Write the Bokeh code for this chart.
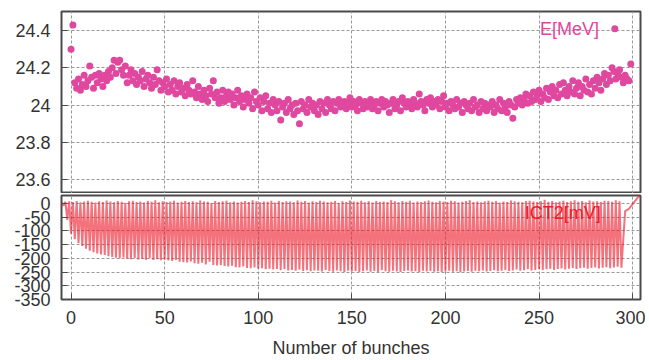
import numpy as np
from bokeh.plotting import figure
from bokeh.layouts import column
from bokeh.models import Range1d, FixedTicker, Label
from bokeh.embed import file_html
from bokeh.resources import INLINE

# ---------------- data ----------------
# E[MeV] for bunch 0..299
energy_mev = [
    24.30, 24.43, 24.12, 24.09, 24.14, 24.08, 24.11, 24.16, 24.10, 24.13,
    24.21, 24.15, 24.09, 24.16, 24.12, 24.17, 24.14, 24.10, 24.16, 24.13,
    24.18, 24.15, 24.20, 24.24, 24.17, 24.23, 24.24, 24.19, 24.16, 24.21,
    24.12, 24.16, 24.19, 24.13, 24.17, 24.11, 24.15, 24.13, 24.18, 24.10,
    24.14, 24.16, 24.12, 24.09, 24.15, 24.11, 24.19, 24.13, 24.08, 24.12,
    24.10, 24.14, 24.07, 24.11, 24.08, 24.13, 24.06, 24.10, 24.12, 24.07,
    24.09, 24.05, 24.11, 24.08, 24.06, 24.13, 24.07, 24.04, 24.10, 24.06,
    24.03, 24.08, 24.05, 24.02, 24.09, 24.06, 24.13, 24.04, 24.07, 24.01,
    24.04, 24.08, 24.02, 24.05, 24.07, 24.03, 24.06, 24.00, 24.04, 24.08,
    24.02, 24.05, 23.99, 24.03, 24.06, 24.01, 24.04, 23.98, 24.07, 24.02,
    24.00, 24.04, 23.97, 24.02, 24.05, 23.98, 24.01, 23.96, 24.03, 24.00,
    23.97, 24.02, 23.92, 23.99, 24.01, 23.96, 24.03, 23.98, 24.00, 23.95,
    24.01, 23.97, 23.90, 24.02, 23.98, 24.00, 23.96, 24.03, 23.99, 24.01,
    23.97, 24.00, 23.95, 24.02, 23.98, 24.01, 23.96, 24.03, 24.00, 23.98,
    24.02, 23.97, 24.01, 24.03, 23.99, 24.00, 24.02, 23.98, 24.01, 24.04,
    23.99, 24.02, 24.00, 23.97, 24.03, 24.01, 23.98, 24.02, 23.99, 24.01,
    24.03, 23.98, 24.00, 24.02, 23.97, 24.01, 24.03, 23.99, 24.02, 24.00,
    23.96, 24.01, 24.03, 23.98, 24.00, 24.02, 23.97, 24.04, 24.01, 23.99,
    24.02, 24.00, 23.98, 24.03, 24.01, 23.99, 24.06, 24.02, 24.00, 23.97,
    24.03, 24.01, 24.04, 23.99, 24.02, 24.00, 24.03, 23.98, 24.02, 24.05,
    23.99, 24.01, 23.97, 24.02, 24.00, 23.98, 24.03, 23.99, 24.01, 23.96,
    24.02, 24.00, 23.98, 24.01, 23.97, 24.03, 23.99, 24.00, 23.96, 24.02,
    23.98, 24.01, 23.97, 24.00, 23.99, 24.02, 23.96, 24.00, 23.98, 24.03,
    23.97, 24.01, 23.99, 23.96, 24.02, 24.00, 23.93, 23.99, 24.03, 24.01,
    24.04, 24.00, 24.03, 24.06, 24.01, 24.05, 24.02, 24.07, 24.03, 24.05,
    24.08, 24.02, 24.06, 24.04, 24.09, 24.03, 24.07, 24.10, 24.05, 24.08,
    24.04, 24.11, 24.06, 24.12, 24.08, 24.05, 24.10, 24.07, 24.13, 24.06,
    24.09, 24.12, 24.05, 24.10, 24.08, 24.14, 24.07, 24.11, 24.06, 24.13,
    24.09, 24.15, 24.12, 24.08, 24.14, 24.17, 24.11, 24.16, 24.13, 24.20,
    24.18, 24.14, 24.17, 24.19, 24.15, 24.12, 24.16, 24.14, 24.13, 24.22,
]

# ICT2[mV] trace: pulse tops (x = -5, -3, ...) and troughs (x = -4, -2, ...)
ict2_peaks = [
    3, 6, 8, 5, 9, 4, 7, 10, 6, 3,
    8, 5, 11, 7, 4, 9, 6, 2, 8, 10,
    5, 7, 3, 9, 6, 12, 4, 8, 5, 7,
    10, 3, 6, 9, 5, 8, 4, 11, 7, 6,
    2, 9, 5, 8, 10, 4, 7, 3, 6, 9,
    5, 12, 8, 4, 7, 6, 10, 3, 9, 5,
    8, 7, 4, 11, 6, 9, 3, 8, 5, 10,
    7, 4, 6, 9, 2, 8, 5, 11, 7, 6,
    10, 4, 8, 3, 9, 6, 7, 5, 12, 8,
    4, 9, 6, 10, 3, 7, 5, 8, 11, 6,
    4, 9, 7, 5, 10, 8, 3, 6, 9, 12,
    5, 7, 4, 8, 10, 6, 9, 3, 7, 5,
    11, 8, 6, 4, 9, 10, 7, 5, 8, 13,
    6, 9, 4, 7, 10, 5, 8, 12, 6, 9,
    4, 11, 7, 8, 5, 10, 9, 6, 12, 8,
]
ict2_troughs = [
    -8, -60, -110, -130, -145, -155, -165, -172, -178, -182,
    -186, -188, -192, -195, -198, -200, -197, -201, -203, -199,
    -204, -202, -205, -200, -206, -203, -207, -205, -208, -210,
    -206, -212, -214, -215, -211, -218, -220, -216, -222, -212,
    -224, -226, -225, -228, -230, -227, -232, -233, -230, -235,
    -236, -233, -238, -236, -240, -238, -241, -239, -243, -240,
    -244, -242, -245, -241, -246, -243, -247, -244, -245, -248,
    -242, -246, -249, -244, -247, -250, -245, -248, -246, -250,
    -247, -244, -249, -246, -250, -243, -247, -249, -245, -248,
    -250, -246, -244, -248, -247, -250, -245, -248, -246, -249,
    -247, -250, -248, -245, -249, -247, -251, -248, -246, -249,
    -245, -247, -244, -248, -246, -243, -247, -245, -242, -246,
    -244, -241, -245, -243, -240, -244, -242, -239, -243, -240,
    -238, -242, -239, -237, -241, -238, -235, -239, -236, -234,
    -238, -235, -233, -237, -234, -232, -236, -233, -231, -234,
]
ict2_tail_x = [296, 298, 304]
ict2_tail_y = [-28, -20, 32]

x_ticks = [0, 50, 100, 150, 200, 250, 300]
x_tick_labels = ["0", "50", "100", "150", "200", "250", "300"]
e_ticks = [23.6, 23.8, 24.0, 24.2, 24.4]
e_tick_labels = ["23.6", "23.8", "24", "24.2", "24.4"]
ict_ticks = [0, -50, -100, -150, -200, -250, -300, -350]
ict_tick_labels = ["0", "-50", "-100", "-150", "-200", "-250", "-300", "-350"]

# ---------------- build ----------------
FONT = "Liberation Sans"
PINK = "#e0479e"
RED = "#ec1c2c"
FRAME = "#4a4a4a"
TXT = "#333333"

bunch = np.arange(len(energy_mev))
peak_x = -5 + 2 * np.arange(len(ict2_peaks))
trough_x = -4 + 2 * np.arange(len(ict2_troughs))
trace_x, trace_y = [], []
for px_, py_, tx_, ty_ in zip(peak_x, ict2_peaks, trough_x, ict2_troughs):
    trace_x += [px_, tx_]
    trace_y += [py_, ty_]
trace_x += ict2_tail_x
trace_y += ict2_tail_y

W = 645
x_rng = (-5.1, 304.2)


def style(p, yticks, ylabels, show_x_labels):
    xt = FixedTicker(ticks=x_ticks)
    yt = FixedTicker(ticks=yticks)
    p.outline_line_color = FRAME
    p.outline_line_width = 2
    p.background_fill_color = "white"
    p.border_fill_color = "white"
    for g, t in ((p.xgrid, xt), (p.ygrid, yt)):
        g.ticker = t
        g.grid_line_color = "#999999"
        g.grid_line_dash = "3 2"
        g.grid_line_width = 1
    ya = p.yaxis[0]
    ya.ticker = yt
    ya.major_label_overrides = {t: l for t, l in zip(yticks, ylabels)}
    ya.major_label_text_font = FONT
    ya.major_label_text_font_size = "18px"
    ya.major_label_text_color = TXT
    ya.major_label_standoff = 11
    ya.major_tick_in = 6
    ya.major_tick_out = 0
    ya.major_tick_line_color = FRAME
    ya.minor_tick_in = 0
    ya.minor_tick_out = 0
    ya.axis_line_color = None
    xa = p.xaxis[0]
    xa.ticker = xt
    if show_x_labels:
        xa.major_label_overrides = {t: l for t, l in zip(x_ticks, x_tick_labels)}
        xa.major_label_text_font = FONT
        xa.major_label_text_font_size = "18px"
        xa.major_label_text_color = TXT
        xa.major_label_standoff = 11
        xa.major_tick_in = 6
        xa.major_tick_out = 0
        xa.major_tick_line_color = FRAME
        xa.minor_tick_in = 0
        xa.minor_tick_out = 0
        xa.axis_line_color = None
        xa.axis_label = "Number of bunches"
        xa.axis_label_text_font = FONT
        xa.axis_label_text_font_size = "18px"
        xa.axis_label_text_font_style = "normal"
        xa.axis_label_text_color = TXT
        xa.axis_label_standoff = 11
    else:
        xa.visible = False


# top panel: energy
p1 = figure(width=W, height=193, x_range=Range1d(*x_rng), y_range=Range1d(23.526, 24.502),
            output_backend="svg", toolbar_location=None,
            min_border_left=61, min_border_right=5, min_border_top=11, min_border_bottom=0)
style(p1, e_ticks, e_tick_labels, False)
p1.scatter(bunch, energy_mev, size=7, color=PINK, line_color=None)
p1.add_layout(Label(x=282, y=24.41, text="E[MeV]", text_align="right", text_baseline="middle",
                    text_font=FONT, text_font_size="18px", text_color=PINK))
p1.scatter([290.5], [24.41], size=7, color=PINK, line_color=None)

# bottom panel: ICT2
p2 = figure(width=W, height=167, x_range=p1.x_range, y_range=Range1d(-350, 29),
            output_backend="svg", toolbar_location=None,
            min_border_left=61, min_border_right=5, min_border_top=2, min_border_bottom=59)
style(p2, ict_ticks, ict_tick_labels, True)
p2.line(trace_x, trace_y, line_color=RED, line_width=2, line_alpha=0.62)
p2.add_layout(Label(x=283, y=-36, text="ICT2[mV]", text_align="right", text_baseline="middle",
                    text_font=FONT, text_font_size="18px", text_color="#e8202a"))

layout = column(p1, p2, spacing=0)
open("out.html", "w").write(file_html(layout, INLINE))
